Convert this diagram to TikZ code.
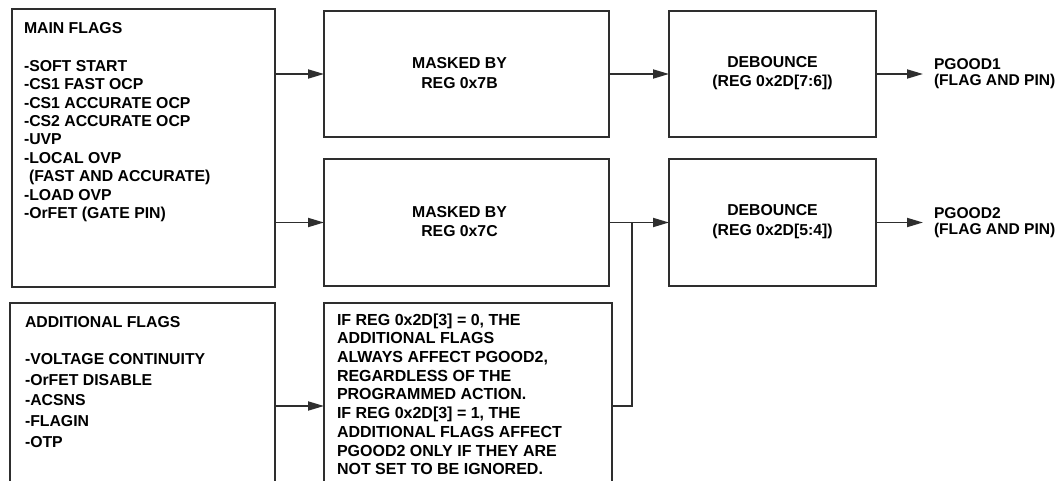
\documentclass[tikz,border=0pt]{standalone}
\usepackage{fontspec}
\setmainfont{Liberation Sans}
\usetikzlibrary{arrows.meta}
\definecolor{ln}{HTML}{2E2E2E}
\tikzset{
  box/.style={draw=ln, line width=1.8pt, inner sep=0pt, outer sep=0pt, anchor=north west, fill=white},
  arr/.style={draw=ln, line width=1.8pt, -{Triangle[length=16pt,width=9pt]}},
  wire/.style={draw=ln, line width=1.8pt},
  txt/.style={inner sep=0pt, outer sep=0pt, align=left, text=black},
  ctxt/.style={inner sep=0pt, outer sep=0pt, align=center, text=black,
    font=\fontsize{15.8}{19.5}\selectfont\bfseries}
}
\begin{document}
\begin{tikzpicture}[x=1pt, y=-1pt]
\useasboundingbox (0,0) rectangle (1060,481);
\clip (0,0) rectangle (1060,481);
\fill[white] (0,0) rectangle (1060,481);

% boxes
\node[box, minimum width=263pt, minimum height=278pt] (main) at (12,9) {};
\node[box, minimum width=285pt, minimum height=126pt] (mask1) at (324,11) {};
\node[box, minimum width=285pt, minimum height=127pt] (mask2) at (324,159) {};
\node[box, minimum width=207pt, minimum height=126pt] (deb1) at (669,11) {};
\node[box, minimum width=207pt, minimum height=127pt] (deb2) at (669,159) {};
\node[box, minimum width=265pt, minimum height=206pt] (add) at (10,303) {};
\node[box, minimum width=288pt, minimum height=206pt] (cond) at (324,303) {};

% texts
\node[txt, anchor=north west, font=\fontsize{15.8}{18.4}\selectfont\bfseries] (maintxt) at (24,22.3)
 {MAIN FLAGS\\[19.6pt]
  -SOFT START\\
  -CS1 FAST OCP\\
  -CS1 ACCURATE OCP\\
  -CS2 ACCURATE OCP\\
  -UVP\\
  -LOCAL OVP\\
  \hspace*{5pt}(FAST AND ACCURATE)\\
  -LOAD OVP\\
  -OrFET (GATE PIN)};

\node[txt, anchor=north west, font=\fontsize{15.8}{20.75}\selectfont\bfseries] (addtxt) at (25,316.3)
 {ADDITIONAL FLAGS\\[16.2pt]
  -VOLTAGE CONTINUITY\\
  -OrFET DISABLE\\
  -ACSNS\\
  -FLAGIN\\
  -OTP};

\node[txt, anchor=north west, font=\fontsize{16}{18.7}\selectfont\bfseries] (condtxt) at (337,313.6)
 {IF REG 0x2D[3] = 0, THE\\
  ADDITIONAL FLAGS\\
  ALWAYS AFFECT PGOOD2,\\
  REGARDLESS OF THE\\
  PROGRAMMED ACTION.\\
  IF REG 0x2D[3] = 1, THE\\
  ADDITIONAL FLAGS AFFECT\\
  PGOOD2 ONLY IF THEY ARE\\
  NOT SET TO BE IGNORED.};

\node[ctxt] (m1txt) at ([xshift=-7pt,yshift=1pt]mask1.center) {MASKED BY\\REG 0x7B};
\node[ctxt] (m2txt) at ([xshift=-7pt,yshift=1pt]mask2.center) {MASKED BY\\REG 0x7C};
\node[ctxt] (d1txt) at ([yshift=1pt]deb1.center) {DEBOUNCE\\(REG 0x2D[7:6])};
\node[ctxt] (d2txt) at ([yshift=1pt]deb2.center) {DEBOUNCE\\(REG 0x2D[5:4])};

\node[txt, anchor=west, font=\fontsize{15.6}{16}\selectfont\bfseries] (pg1) at (934,74) {PGOOD1\\(FLAG AND PIN)};
\node[txt, anchor=west, font=\fontsize{15.6}{16}\selectfont\bfseries] (pg2) at (934,223) {PGOOD2\\(FLAG AND PIN)};

% connectors
\draw[arr] (main.east |- mask1.west) -- (mask1.west);
\draw[arr] (main.east |- mask2.west) -- (mask2.west);
\draw[arr] (mask1.east) -- (deb1.west);
\draw[arr] (mask2.east) -- (deb2.west);
\draw[arr, shorten >=11pt] (deb1.east) -- (deb1.east -| pg1.west);
\draw[arr, shorten >=11pt] (deb2.east) -- (deb2.east -| pg2.west);
\draw[arr] (add.east) -- (cond.west);
\coordinate (jn) at ([xshift=23pt]mask2.east);
\draw[wire] (cond.east) -| (jn);
\end{tikzpicture}
\end{document}
